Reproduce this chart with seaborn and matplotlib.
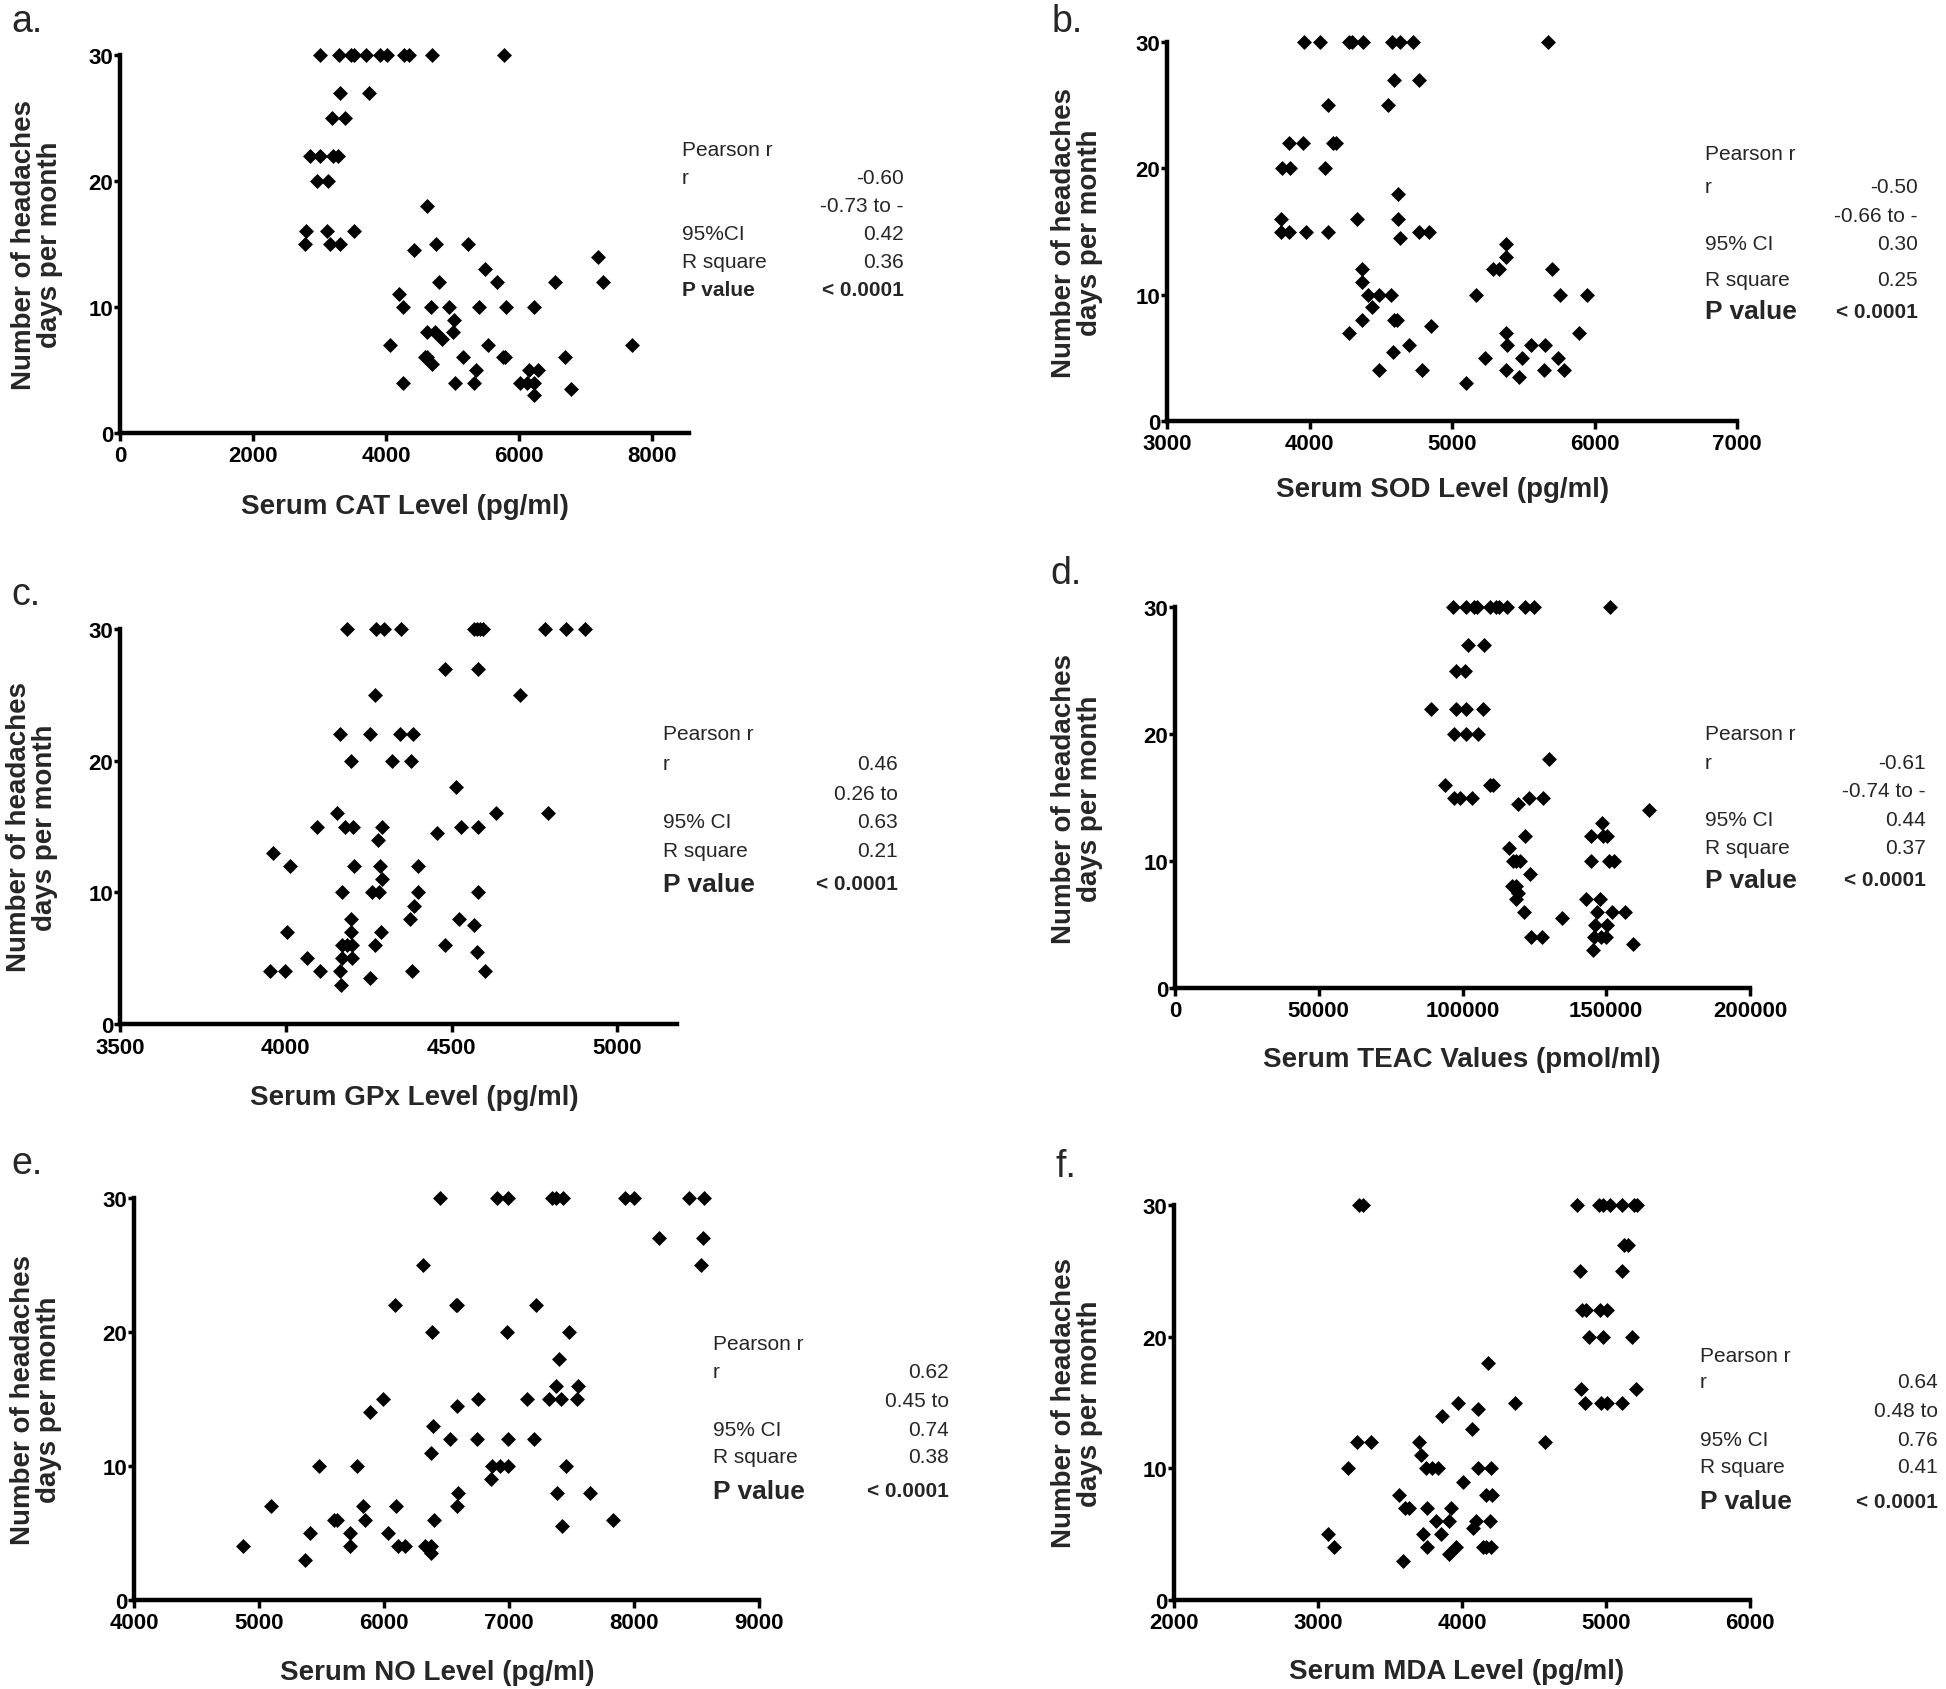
import matplotlib
matplotlib.use("Agg")
import matplotlib.pyplot as plt
import seaborn as sns
import pandas as pd

# style: plain white, ticks only, Arial-like font
sns.set_style("ticks")
plt.rcParams['font.family'] = ['Liberation Sans', 'DejaVu Sans']

W, H = 1946, 1690

# ---- data (x = serum level, y = headache days / month) ----
cat_x = [3006, 3291, 3474, 3520, 3691, 3903, 4017, 4274, 4348, 4691, 5777,
         3303, 3748,
         3188, 3377,
         2857, 3006, 3200, 3274,
         2966, 3120,
         4606,
         2794, 3114, 3514,
         2783, 3149, 3303, 4743, 5228,
         4417, 7177, 5486,
         4788, 5663, 6531, 7257,
         4188,
         4257, 4674, 4943, 5394, 5806, 6228,
         5017,
         4617, 4731, 5000,
         4846,
         4063, 5531, 7691,
         4588, 4610, 5160, 5748, 5788, 6691,
         4691,
         5343, 6143, 6286,
         4257, 5034, 5326, 6006, 6114, 6217,
         6777, 6228]
cat_y = [30, 30, 30, 30, 30, 30, 30, 30, 30, 30, 30,
         27, 27,
         25, 25,
         22, 22, 22, 22,
         20, 20,
         18,
         16, 16, 16,
         15, 15, 15, 15, 15,
         14.5, 14, 13,
         12, 12, 12, 12,
         11,
         10, 10, 10, 10, 10, 10,
         9,
         8, 8, 8,
         7.5,
         7, 7, 7,
         6, 6, 6, 6, 6, 6,
         5.5,
         5, 5, 5,
         4, 4, 4, 4, 4, 4,
         3.5, 3]

sod_x = [3964, 4075, 4277, 4296, 4374, 4579, 4637, 4726, 5676,
         4593, 4767,
         4130, 4551,
         3853, 3956, 4166, 4188,
         3806, 3861, 4111,
         4620,
         3801, 4335, 4618,
         3798, 3859, 3978, 4130, 4767, 4837,
         4632, 5382, 5382,
         4371, 5288, 5327, 5701,
         4371,
         4413, 4490, 4573, 5169, 5756, 5950,
         4440,
         4366, 4593, 4615,
         4856,
         4277, 5379, 5889,
         4701, 5385, 5557, 5654,
         4587,
         5233, 5488, 5745,
         4485, 4787, 5382, 5648, 5784,
         5471, 5097]
sod_y = [30, 30, 30, 30, 30, 30, 30, 30, 30,
         27, 27,
         25, 25,
         22, 22, 22, 22,
         20, 20, 20,
         18,
         16, 16, 16,
         15, 15, 15, 15, 15, 15,
         14.5, 14, 13,
         12, 12, 12, 12,
         11,
         10, 10, 10, 10, 10, 10,
         9,
         8, 8, 8,
         7.5,
         7, 7, 7,
         6, 6, 6, 6,
         5.5,
         5, 5, 5,
         4, 4, 4, 4, 4,
         3.5, 3]

gpx_x = [4184, 4272, 4297, 4349, 4569, 4578, 4586, 4595, 4782, 4845, 4903,
         4479, 4581,
         4268, 4705,
         4165, 4253, 4345, 4385,
         4198, 4319, 4378,
         4512,
         4156, 4633, 4790,
         4094, 4180, 4202, 4290, 4529, 4581,
         4455, 4278, 3961,
         4013, 4207, 4283, 4399,
         4289,
         4171, 4259, 4281, 4400, 4581,
         4388,
         4196, 4375, 4523,
         4569,
         4003, 4198, 4287,
         4171, 4185, 4199, 4268, 4479,
         4576,
         4063, 4171, 4199,
         3953, 3998, 4102, 4165, 4380, 4600,
         4253, 4168]
gpx_y = [30, 30, 30, 30, 30, 30, 30, 30, 30, 30, 30,
         27, 27,
         25, 25,
         22, 22, 22, 22,
         20, 20, 20,
         18,
         16, 16, 16,
         15, 15, 15, 15, 15, 15,
         14.5, 14, 13,
         12, 12, 12, 12,
         11,
         10, 10, 10, 10, 10,
         9,
         8, 8, 8,
         7.5,
         7, 7, 7,
         6, 6, 6, 6, 6,
         5.5,
         5, 5, 5,
         4, 4, 4, 4, 4, 4,
         3.5, 3]

teac_x = [96700, 101300, 104000, 105100, 109600, 111800, 112700, 115400, 121800, 125000, 151200,
          102000, 107600,
          97700, 100700,
          89000, 97600, 101300, 107100,
          96900, 101300, 105400,
          130100,
          94000, 109600, 110700,
          96900, 99100, 103400, 123100, 128100,
          119400, 164900, 148400,
          121700, 144800, 148800, 150100,
          116100,
          117400, 118700, 120100, 144800, 150800, 152600,
          123400,
          117100, 118500,
          119400,
          118700, 143100, 147900,
          121400, 146800, 151900, 156600,
          134500,
          146100, 150100,
          123800, 127800, 145900, 148100, 149900,
          159200, 145500]
teac_y = [30, 30, 30, 30, 30, 30, 30, 30, 30, 30, 30,
          27, 27,
          25, 25,
          22, 22, 22, 22,
          20, 20, 20,
          18,
          16, 16, 16,
          15, 15, 15, 15, 15,
          14.5, 14, 13,
          12, 12, 12, 12,
          11,
          10, 10, 10, 10, 10, 10,
          9,
          8, 8,
          7.5,
          7, 7, 7,
          6, 6, 6, 6,
          5.5,
          5, 5,
          4, 4, 4, 4, 4,
          3.5, 3]

no_x = [6448, 6903, 6993, 7345, 7372, 7431, 7931, 8000, 8441, 8558,
        8196, 8552,
        6310, 8534,
        6086, 6576, 6586, 7217,
        6386, 6983, 7476,
        7403,
        7372, 7552,
        5993, 6748, 7145, 7317, 7414, 7545,
        6586, 5886, 6390,
        6527, 6741, 6993, 7200,
        6372,
        5483, 5786, 6862, 6924, 6993, 7455,
        6855,
        6593, 7386, 7645,
        5093, 5828, 6097, 6586,
        5603, 5621, 5845, 6396, 7834,
        7421,
        5407, 5724, 6034,
        4869, 5724, 6110, 6165, 6328, 6372,
        6372, 5369]
no_y = [30, 30, 30, 30, 30, 30, 30, 30, 30, 30,
        27, 27,
        25, 25,
        22, 22, 22, 22,
        20, 20, 20,
        18,
        16, 16,
        15, 15, 15, 15, 15, 15,
        14.5, 14, 13,
        12, 12, 12, 12,
        11,
        10, 10, 10, 10, 10, 10,
        9,
        8, 8, 8,
        7, 7, 7, 7,
        6, 6, 6, 6, 6,
        5.5,
        5, 5, 5,
        4, 4, 4, 4, 4, 4,
        3.5, 3]

mda_x = [3287, 3312, 4801, 4949, 4980, 5026, 5108, 5197, 5213,
         5128, 5154,
         4821, 5110,
         4834, 4860, 4957, 5008,
         4880, 4982, 5184,
         4182,
         4826, 5210,
         3972, 4369, 4855, 4962, 5008, 5110,
         4113, 3862, 4072,
         3274, 3371, 3703, 4578,
         3714,
         3205, 3747, 3793, 3836, 4110, 4202,
         4008,
         3563, 4169, 4207,
         3606, 3632, 3760, 3926,
         3816, 3913, 4100, 4195,
         4074,
         3069, 3726, 3854,
         3113, 3760, 3959, 4143, 4164, 4202,
         3913, 3588]
mda_y = [30, 30, 30, 30, 30, 30, 30, 30, 30,
         27, 27,
         25, 25,
         22, 22, 22, 22,
         20, 20, 20,
         18,
         16, 16,
         15, 15, 15, 15, 15, 15,
         14.5, 14, 13,
         12, 12, 12, 12,
         11,
         10, 10, 10, 10, 10, 10,
         9,
         8, 8, 8,
         7, 7, 7, 7,
         6, 6, 6, 6,
         5.5,
         5, 5, 5,
         4, 4, 4, 4, 4, 4,
         3.5, 3]

# axis settings
x_labels = ['Serum CAT Level (pg/ml)', 'Serum SOD Level (pg/ml)', 'Serum GPx Level (pg/ml)',
            'Serum TEAC Values (pmol/ml)', 'Serum NO Level (pg/ml)', 'Serum MDA Level (pg/ml)']
x_ticks = [[0, 2000, 4000, 6000, 8000],
           [3000, 4000, 5000, 6000, 7000],
           [3500, 4000, 4500, 5000],
           [0, 50000, 100000, 150000, 200000],
           [4000, 5000, 6000, 7000, 8000, 9000],
           [2000, 3000, 4000, 5000, 6000]]
x_limits = [(0, 8550), (3000, 7000), (3500, 5180), (0, 200000), (4000, 9000), (2000, 6000)]
y_ticks = [0, 10, 20, 30]
panel_letters = ['a.', 'b.', 'c.', 'd.', 'e.', 'f.']

# stats table next to each panel
stat_names = ['Pearson r', 'r', '', '95%CI', 'R square', 'P value']
stat_names_ci = ['Pearson r', 'r', '', '95% CI', 'R square', 'P value']
stat_vals = [['', '-0.60', '-0.73 to -', '0.42', '0.36', '< 0.0001'],
             ['', '-0.50', '-0.66 to -', '0.30', '0.25', '< 0.0001'],
             ['', '0.46', '0.26 to', '0.63', '0.21', '< 0.0001'],
             ['', '-0.61', '-0.74 to -', '0.44', '0.37', '< 0.0001'],
             ['', '0.62', '0.45 to', '0.74', '0.38', '< 0.0001'],
             ['', '0.64', '0.48 to', '0.76', '0.41', '< 0.0001']]

# layout in pixels: (left, top, right, bottom) of each axes
rects = [(120, 56, 689, 434), (1167, 43, 1737, 422),
         (120, 630, 677, 1025), (1175, 608, 1750, 989),
         (134, 1199, 759, 1601), (1174, 1206, 1750, 1601)]
ylab_x = [-0.145, -0.158, -0.158, -0.170, -0.156, -0.168]
xlab_pos = [(0.50, -0.192), (0.484, -0.179), (0.528, -0.185),
            (0.499, -0.186), (0.485, -0.179), (0.49, -0.18)]
letter_pos = [(11, 32), (1052, 32), (11, 605), (1050, 584), (11, 1174), (1055, 1177)]
# stats block: label x, value right x, row centres
stat_pos = [(682, 904, [150, 178, 207, 235, 262, 290]),
            (1705, 1918, [155, 188, 217, 245, 280, 312]),
            (663, 898, [735, 765, 795, 823, 852, 885]),
            (1705, 1926, [735, 764, 792, 820, 849, 881]),
            (713, 949, [1345, 1373, 1402, 1431, 1458, 1492]),
            (1700, 1938, [1357, 1383, 1412, 1441, 1468, 1502])]

all_x = [cat_x, sod_x, gpx_x, teac_x, no_x, mda_x]
all_y = [cat_y, sod_y, gpx_y, teac_y, no_y, mda_y]

fig = plt.figure(figsize=(W / 100, H / 100), dpi=100)

for i in range(6):
    l, t, r, b = rects[i]
    ax = fig.add_axes([l / W, 1 - b / H, (r - l) / W, (b - t) / H])
    df = pd.DataFrame({'x': all_x[i], 'y': all_y[i]})
    sns.scatterplot(data=df, x='x', y='y', ax=ax, marker='D', color='black',
                    s=58, linewidth=0, clip_on=False, legend=False, zorder=3)

    ax.set_xlim(*x_limits[i])
    ax.set_ylim(0, 30)
    ax.set_xticks(x_ticks[i])
    ax.set_xticklabels([str(v) for v in x_ticks[i]], fontweight='bold')
    ax.set_yticks(y_ticks)
    ax.set_yticklabels([str(v) for v in y_ticks], fontweight='bold')
    ax.tick_params(axis='both', labelsize=16, width=2.5, colors='black')
    ax.tick_params(axis='y', length=4, pad=1)
    ax.tick_params(axis='x', length=6, pad=3)

    sns.despine(ax=ax)
    for side in ['left', 'bottom']:
        ax.spines[side].set_linewidth(3.2)
        ax.spines[side].set_color('black')

    ax.set_xlabel(x_labels[i], fontsize=20, fontweight='bold')
    ax.set_ylabel('Number of headaches\ndays per month', fontsize=20,
                  fontweight='bold', linespacing=1.0)
    ax.xaxis.set_label_coords(*xlab_pos[i])
    ax.xaxis.label.set_va('center')
    ax.yaxis.set_label_coords(ylab_x[i], 0.5)
    ax.yaxis.label.set_va('center')

    # panel letter
    lx, ly = letter_pos[i]
    fig.text(lx / W, 1 - ly / H, panel_letters[i], fontsize=27, va='baseline')

    # stats block
    sx, vx, rows = stat_pos[i]
    names = stat_names if i == 0 else stat_names_ci
    for k in range(6):
        yy = 1 - rows[k] / H
        is_p = (k == 5)
        name_size = 15 if (i == 0 or not is_p) else 19
        fig.text(sx / W, yy, names[k], fontsize=name_size,
                 fontweight='bold' if is_p else 'normal', va='center', ha='left')
        if stat_vals[i][k]:
            fig.text(vx / W, yy, stat_vals[i][k], fontsize=15,
                     fontweight='bold' if is_p else 'normal', va='center', ha='right')

fig.savefig('out.png', dpi=100, facecolor='white')
